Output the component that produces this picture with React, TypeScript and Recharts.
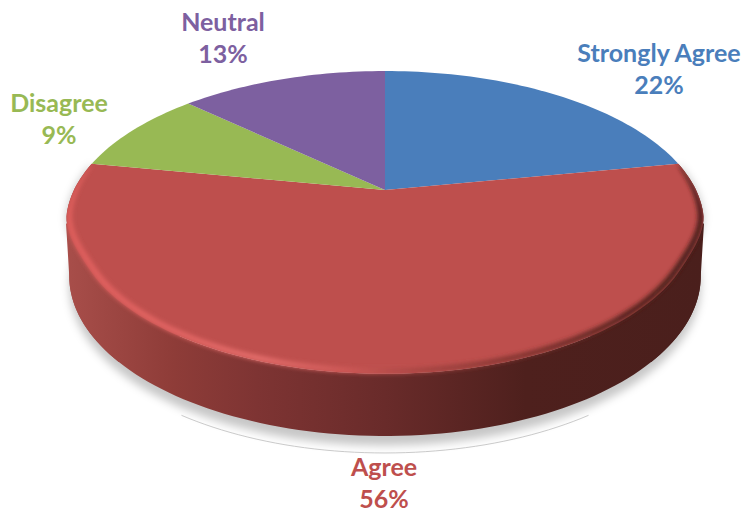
import { Pie, PieChart } from "recharts"

const categories = ["Strongly Agree", "Agree", "Disagree", "Neutral"]
const shares = [22, 56, 9, 13]
const colors = ["#4A7EBB", "#BE4F4D", "#98B954", "#7D60A0"]

// first line baseline per slice, Excel moved these by hand so they do not follow the slices
const labelSpots = [
    { x: 659, y: 62 },
    { x: 384, y: 476 },
    { x: 59, y: 112 },
    { x: 223, y: 31 },
]
const lineGap = 32

const data = categories.map((name, i) => ({ name, value: shares[i], fill: colors[i] }))

// tilt of the disc: squash and perspective
const SQUASH = 0.4675
const PERSP = 0.222
// angles of the widest point of the disc, and a bit further round the front
const WIDE_R = -12.7
const WIDE_L = -167.3
const SKIRT = 30

type Ring = { dy?: number; rx?: number; ry?: number }

function project(cx: number, cy: number, r: number, deg: number, ring: Ring = {}) {
    const a = (deg * Math.PI) / 180
    const u = Math.cos(a)
    const v = Math.sin(a)
    const w = 1 + PERSP * v
    const rx = ring.rx ?? r
    const ry = ring.ry ?? r * SQUASH
    return [cx + (rx * u) / w, cy + (ring.dy ?? 0) - (ry * v) / w]
}

function arcPts(cx: number, cy: number, r: number, from: number, to: number, ring: (deg: number, t: number) => Ring) {
    const steps = Math.max(2, Math.ceil(Math.abs(to - from) / 1.5))
    const pts: number[][] = []
    for (let i = 0; i <= steps; i++) {
        const t = i / steps
        const deg = from + (to - from) * t
        pts.push(project(cx, cy, r, deg, ring(deg, t)))
    }
    return pts
}

const toLine = (pts: number[][]) =>
    "M" + pts.map((p) => `${p[0].toFixed(2)},${p[1].toFixed(2)}`).join("L")
const toPath = (pts: number[][]) => toLine(pts) + "Z"

// the rounded edge pulls the top face in a little below its widest point
function rimAmount(deg: number) {
    const v = Math.sin((deg * Math.PI) / 180)
    const x = Math.min(1, Math.max(0, (-v - 0.15) / 0.35))
    return x * x * (3 - 2 * x)
}

function SliceShape(props: any) {
    const { cx, cy, outerRadius: r, startAngle, endAngle, fill, name } = props
    const plain = () => ({})
    if (name !== "Agree") {
        return <path d={toPath([[cx, cy], ...arcPts(cx, cy, r, startAngle, endAngle, plain)])} fill={fill} />
    }

    const rim = (deg: number): Ring => {
        const h = rimAmount(deg)
        return { rx: r * (1 - 0.028 * h), ry: r * SQUASH * (1 - 0.02 * h), dy: 0.7 * h }
    }
    const rimInner = (deg: number, t: number): Ring => {
        const h = rimAmount(deg)
        const f = Math.pow(Math.sin(Math.PI * t), 0.35)
        return { rx: r * (1 - 0.028 * h - 0.026 * f), ry: r * SQUASH * (1 - 0.02 * h - 0.028 * f), dy: 0.7 * h }
    }
    const floor = { dy: 50.5, rx: r * 0.99, ry: r * 0.489 }

    const top = arcPts(cx, cy, r, startAngle, endAngle, rim)
    const bottom = arcPts(cx, cy, r, endAngle, startAngle, () => floor)
    const face = toPath([[cx, cy], ...top])
    const wall = toPath([...top, ...bottom])
    const shadow = toPath([...top, ...arcPts(cx, cy, r, endAngle, startAngle, () => ({ ...floor, dy: 60 }))])
    const band = toPath([...top, ...arcPts(cx, cy, r, endAngle, startAngle, (d, t) => rimInner(d, 1 - t))])

    // closes the side of the disc between the widest point on top and on the floor
    const skirt = (from: number, to: number) =>
        toPath([project(cx, cy, r, from), ...arcPts(cx, cy, r, from, to, () => floor), [cx, cy + 60]])
    const skirtR = skirt(WIDE_R, WIDE_R - SKIRT)
    const skirtL = skirt(WIDE_L, WIDE_L + SKIRT)

    return (
        <g>
            <defs>
                <linearGradient id="wallFill" gradientUnits="userSpaceOnUse" x1={66} y1={0} x2={704} y2={0}>
                    <stop offset="0" stopColor="#A84E4A" />
                    <stop offset="0.17" stopColor="#8E3C38" />
                    <stop offset="0.3" stopColor="#7E3433" />
                    <stop offset="0.5" stopColor="#692B2A" />
                    <stop offset="0.72" stopColor="#4E201D" />
                    <stop offset="1" stopColor="#4A1F1C" />
                </linearGradient>
                <linearGradient id="bevelFill" gradientUnits="userSpaceOnUse" x1={66} y1={0} x2={704} y2={0}>
                    <stop offset="0" stopColor="#DE5E5C" />
                    <stop offset="0.2" stopColor="#E26664" />
                    <stop offset="0.3" stopColor="#E56E6C" />
                    <stop offset="0.44" stopColor="#CE5957" />
                    <stop offset="0.55" stopColor="#A84643" />
                    <stop offset="0.72" stopColor="#7F332F" />
                    <stop offset="0.88" stopColor="#55231F" />
                    <stop offset="1" stopColor="#4A1F1C" />
                </linearGradient>
                <filter id="soft" filterUnits="userSpaceOnUse" x={0} y={0} width={742} height={513}>
                    <feGaussianBlur stdDeviation={2} />
                </filter>
                <filter id="softer" filterUnits="userSpaceOnUse" x={0} y={0} width={742} height={513}>
                    <feGaussianBlur stdDeviation={4} />
                </filter>
                <clipPath id="discClip">
                    <path d={face} />
                    <path d={wall} />
                    <path d={skirtR} />
                    <path d={skirtL} />
                </clipPath>
            </defs>
            <path d={shadow} fill="#000" fillOpacity={0.22} filter="url(#softer)" />
            <path
                d={toLine(arcPts(cx, cy, r, -122.5, -57.5, () => ({ ...floor, dy: 67.5 })))}
                fill="none"
                stroke="#BDBDBD"
                strokeWidth={0.8}
            />
            <path d={skirtR} fill="url(#wallFill)" />
            <path d={skirtL} fill="url(#wallFill)" />
            <path d={wall} fill="url(#wallFill)" />
            <path d={face} fill={fill} />
            <g clipPath="url(#discClip)">
                <path d={band} fill="url(#bevelFill)" filter="url(#soft)" />
            </g>
        </g>
    )
}

function SliceLabel(props: any) {
    const { index, name, percent, fill } = props
    const spot = labelSpots[index]
    return (
        <text
            x={spot.x}
            y={spot.y}
            textAnchor="middle"
            fill={fill}
            fontFamily="Lato"
            fontWeight={700}
            fontSize={25}
        >
            <tspan x={spot.x} dy={0}>{name}</tspan>
            <tspan x={spot.x} dy={lineGap}>{`${Math.round(percent * 100)}%`}</tspan>
        </text>
    )
}

export default function App() {
    return (
        <div style={{ position: "absolute", left: 0, top: 0, width: 742, height: 513, background: "#fff" }}>
            <PieChart width={742} height={513} margin={{ top: 0, right: 0, bottom: 0, left: 0 }}>
                <Pie
                    data={data}
                    dataKey="value"
                    nameKey="name"
                    cx={385}
                    cy={190}
                    innerRadius={0}
                    outerRadius={311}
                    startAngle={90}
                    endAngle={-270}
                    stroke="none"
                    shape={SliceShape}
                    label={SliceLabel}
                    labelLine={false}
                    isAnimationActive={false}
                />
            </PieChart>
        </div>
    )
}
